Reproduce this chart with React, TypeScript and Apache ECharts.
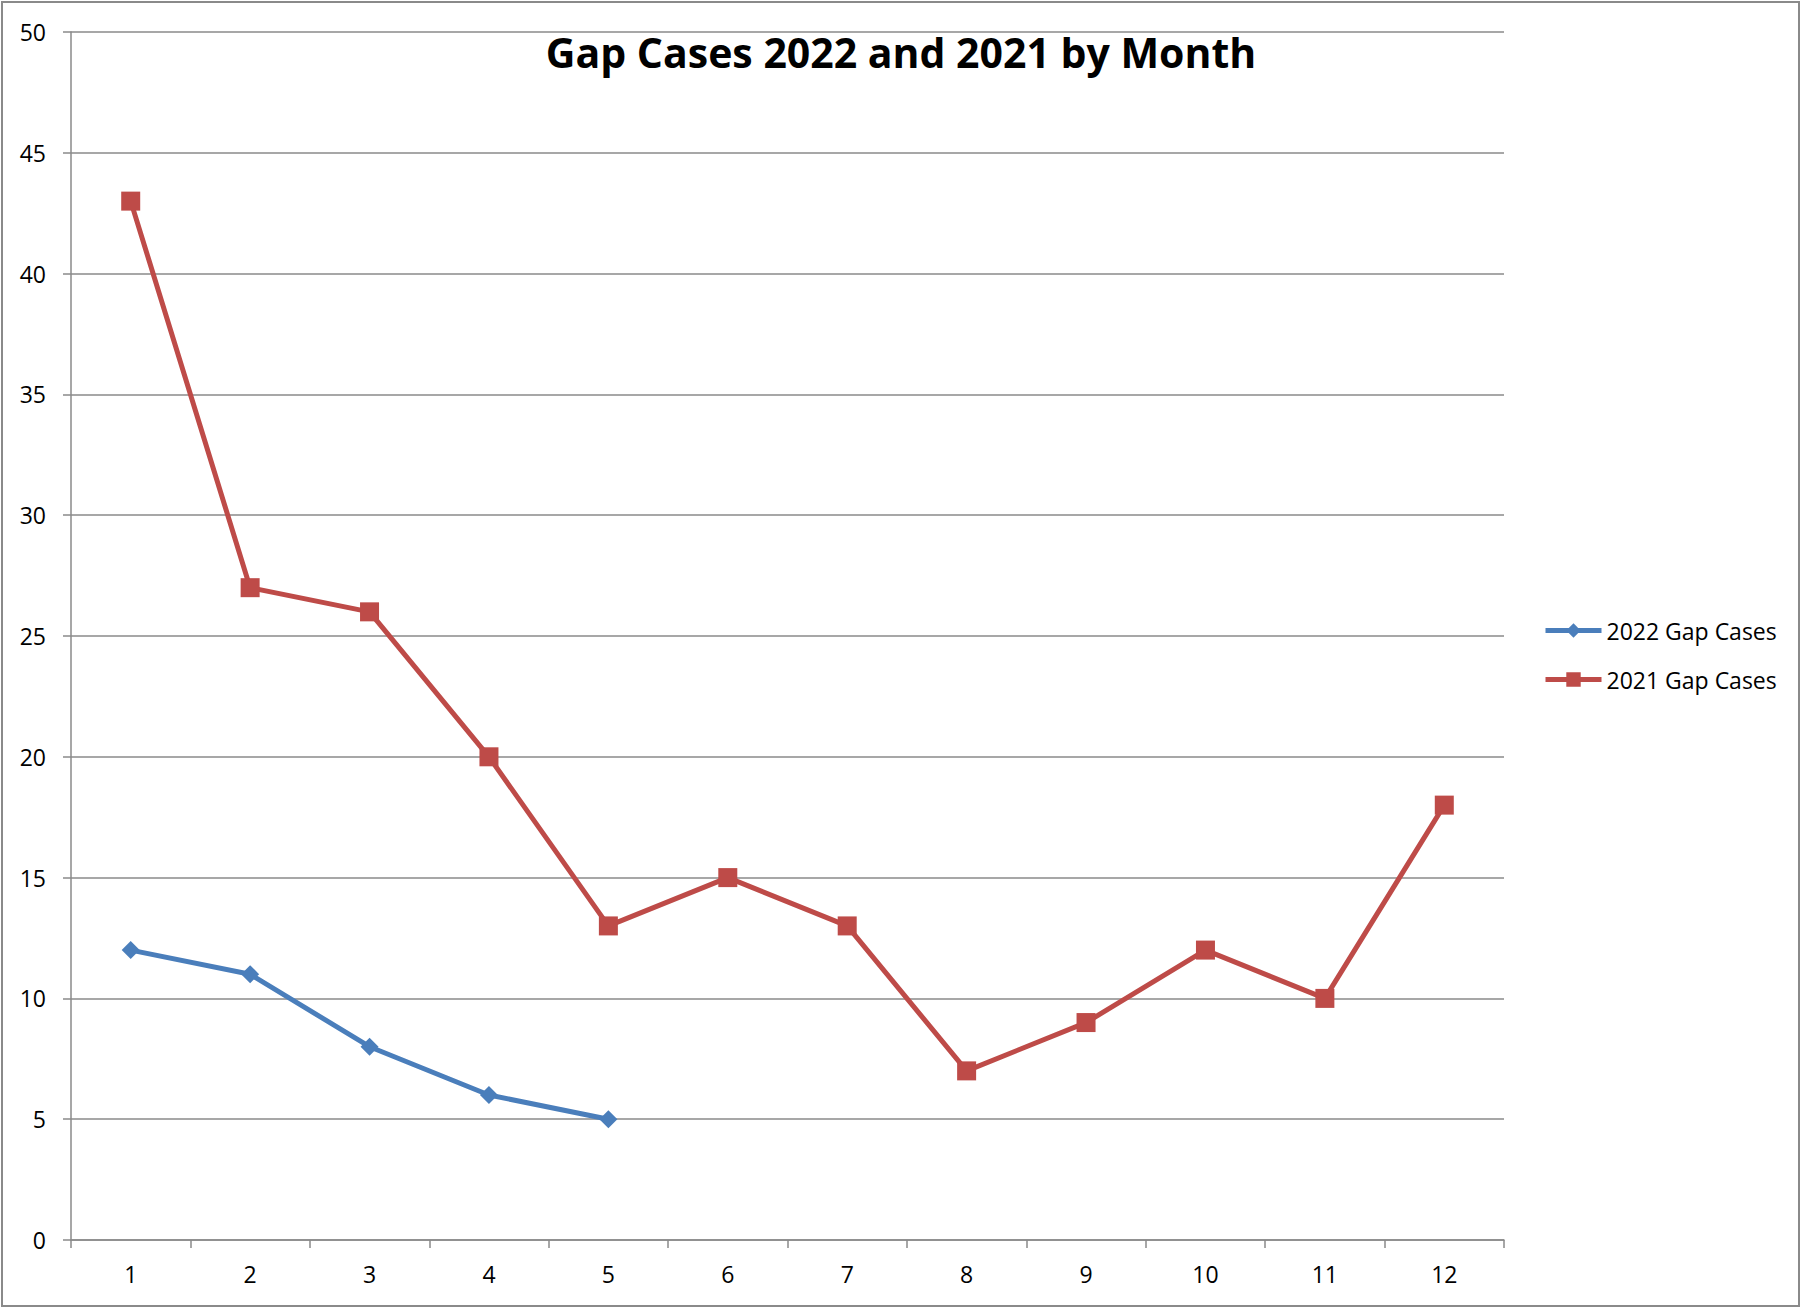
import React, { useEffect, useRef } from "react";
import * as echarts from "echarts";

const months = ["1", "2", "3", "4", "5", "6", "7", "8", "9", "10", "11", "12"];
const gap2022 = [12, 11, 8, 6, 5, null, null, null, null, null, null, null];
const gap2021 = [43, 27, 26, 20, 13, 15, 13, 7, 9, 12, 10, 18];
const seriesNames = ["2022 Gap Cases", "2021 Gap Cases"];
const titleText = "Gap Cases 2022 and 2021 by Month";

const FONT = "'Open Sans', 'Liberation Sans', sans-serif";
const GRID = "#8a8a8a";

export default function App() {
  const ref = useRef<HTMLDivElement>(null);
  useEffect(() => {
    document.body.style.margin = "0";
    document.body.style.overflow = "hidden";
    const chart = echarts.init(ref.current!, null, { renderer: "svg" });
    chart.setOption({
      animation: false,
      backgroundColor: "#ffffff",
      textStyle: { fontFamily: FONT },
      title: {
        text: titleText,
        left: "center",
        top: 26,
        textStyle: { fontFamily: FONT, fontSize: 41, fontWeight: "bold", color: "#000" },
      },
      graphic: [
        {
          type: "rect",
          shape: { x: 2, y: 2, width: 1797, height: 1304 },
          style: { fill: "none", stroke: "#8a8a8a", lineWidth: 2 },
          silent: true,
        },
      ],
      legend: {
        orient: "vertical",
        left: 1538,
        top: 614,
        itemWidth: 56,
        itemHeight: 18,
        itemGap: 26,
        lineStyle: { width: 5 },
        textStyle: { fontFamily: FONT, fontSize: 23, color: "#000" },
        data: seriesNames,
      },
      grid: { left: 71, right: 298, top: 32, bottom: 69 },
      xAxis: {
        type: "category",
        data: months,
        boundaryGap: true,
        axisLine: { lineStyle: { color: GRID, width: 1.5 } },
        axisTick: { show: true, length: 8, alignWithLabel: false, lineStyle: { color: GRID, width: 1.5 } },
        axisLabel: { margin: 22, fontSize: 23, color: "#000", fontFamily: FONT },
        splitLine: { show: false },
      },
      yAxis: {
        type: "value",
        min: 0,
        max: 50,
        interval: 5,
        axisLine: { show: true, lineStyle: { color: GRID, width: 1.5 } },
        axisTick: { show: true, length: 8, inside: false, lineStyle: { color: GRID, width: 1.5 } },
        axisLabel: { margin: 25, fontSize: 23, color: "#000", fontFamily: FONT },
        splitLine: { show: true, lineStyle: { color: GRID, width: 1.5 } },
      },
      series: [
        {
          name: seriesNames[0],
          type: "line",
          data: gap2022,
          symbol: "diamond",
          symbolSize: 18,
          connectNulls: false,
          lineStyle: { color: "#4a7ebb", width: 5 },
          itemStyle: { color: "#4a7ebb" },
        },
        {
          name: seriesNames[1],
          type: "line",
          data: gap2021,
          symbol: "rect",
          symbolSize: 19,
          lineStyle: { color: "#be4b48", width: 5 },
          itemStyle: { color: "#be4b48" },
        },
      ],
    });
    return () => chart.dispose();
  }, []);
  return <div ref={ref} style={{ width: 1802, height: 1309 }} />;
}
